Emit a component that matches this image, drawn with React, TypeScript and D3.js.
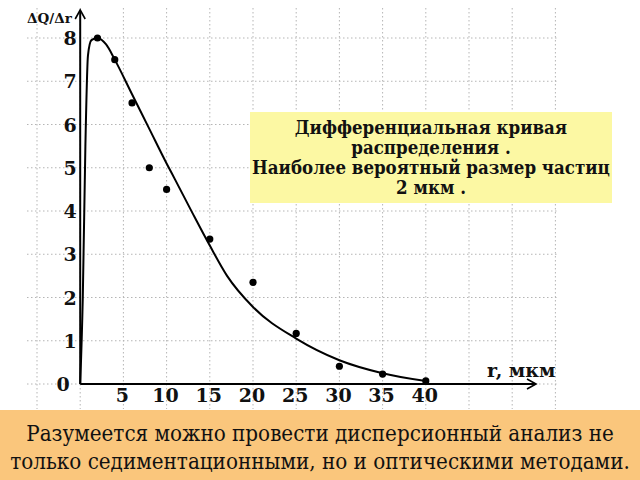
import React from "react";
import * as d3 from "d3";

const pointsX = [2, 4, 6, 8, 10, 15, 20, 25, 30, 35, 40];
const pointsY = [8, 7.5, 6.5, 5, 4.5, 3.35, 2.35, 1.17, 0.41, 0.23, 0.07];

const curveX = [0, 0.3, 0.6, 0.9, 1.3, 2, 3, 4, 6, 8, 10, 11, 13, 15, 17, 20, 25, 30, 35, 40];
const curveY = [0, 2, 5.5, 7.6, 7.95, 8, 7.85, 7.5, 6.7, 5.9, 5.1, 4.72, 3.95, 3.2, 2.5, 1.78, 1.05, 0.55, 0.25, 0.07];

const xTicks = [5, 10, 15, 20, 25, 30, 35, 40];
const yTicks = [0, 1, 2, 3, 4, 5, 6, 7, 8];
const xGrid = [-5, 0, 5, 10, 15, 20, 25, 30, 35, 40, 45, 50, 55];

const boxLines = [
  "Дифференциальная  кривая",
  "распределения .",
  "Наиболее вероятный размер частиц",
  "2 мкм .",
];
const footerLines = [
  "Разумеется можно провести дисперсионный анализ не",
  "только седиментационными, но и оптическими методами.",
];

export default function App() {
  const x = d3.scaleLinear().domain([0, 40]).range([80.2, 425.8]);
  const y = d3.scaleLinear().domain([0, 8]).range([384, 38]);
  const line = d3
    .line<number>()
    .x((_, i) => x(curveX[i]))
    .y((d) => y(d))
    .curve(d3.curveMonotoneX);
  const serif = "DejaVu Serif";
  const cond = "DejaVu Serif Condensed, DejaVu Serif";

  return (
    <svg
      width={640}
      height={480}
      style={{ position: "absolute", left: 0, top: 0, display: "block", background: "#fff" }}
    >
      {/* grid */}
      <g stroke="#b5b5b5" strokeWidth={1} strokeDasharray="1.5,2.5">
        {xGrid.map((v) => (
          <line key={"vx" + v} x1={x(v)} x2={x(v)} y1={8} y2={409} />
        ))}
        {yTicks.map((v) => (
          <line key={"hy" + v} x1={27} x2={558} y1={y(v)} y2={y(v)} />
        ))}
      </g>

      {/* info box */}
      <rect x={250} y={112} width={362} height={91} fill="#fcf8a3" />
      <g fontFamily={cond} fontWeight="bold" fontSize={18.5} fill="#111" textAnchor="middle">
        {boxLines.map((t, i) => (
          <text key={i} x={431} y={134 + i * 20}>
            {t}
          </text>
        ))}
      </g>

      {/* axes */}
      <line x1={x(0)} x2={x(0)} y1={y(0)} y2={11} stroke="#000" strokeWidth={2} />
      <path d={`M${x(0) - 5},${19} L${x(0)},${10} L${x(0) + 5},${19}`} fill="none" stroke="#000" strokeWidth={1.6} />
      <line x1={x(0)} x2={536} y1={y(0)} y2={y(0)} stroke="#000" strokeWidth={2} />
      <path d={`M${527},${y(0) - 5} L${536},${y(0)} L${527},${y(0) + 5}`} fill="none" stroke="#000" strokeWidth={1.6} />

      {/* axis labels */}
      <text x={27} y={23} fontFamily={serif} fontWeight="bold" fontSize={13.5} fill="#111">
        ΔQ/Δr
      </text>
      <text x={487} y={377} fontFamily={serif} fontWeight="bold" fontSize={19} fill="#111">
        r, мкм
      </text>

      {/* tick labels */}
      <g fontFamily={serif} fontWeight="bold" fontSize={19} fill="#111" textAnchor="middle">
        {yTicks.map((v) => (
          <text key={"yt" + v} x={v === 0 ? 63 : 70} y={y(v) + 7}>
            {v}
          </text>
        ))}
        {xTicks.map((v) => (
          <text key={"xt" + v} x={x(v) - 1} y={402}>
            {v}
          </text>
        ))}
      </g>

      {/* curve */}
      <path d={line(curveY) || ""} fill="none" stroke="#000" strokeWidth={2} />

      {/* points */}
      {pointsX.map((v, i) => (
        <circle key={"p" + i} cx={x(v)} cy={y(pointsY[i])} r={3.6} fill="#000" />
      ))}

      {/* footer */}
      <rect x={0} y={410} width={640} height={70} fill="#fac67c" />
      <g fontFamily={cond} fontSize={22.2} fill="#111" textAnchor="middle">
        {footerLines.map((t, i) => (
          <text key={i} x={320} y={441 + i * 28}>
            {t}
          </text>
        ))}
      </g>
    </svg>
  );
}
